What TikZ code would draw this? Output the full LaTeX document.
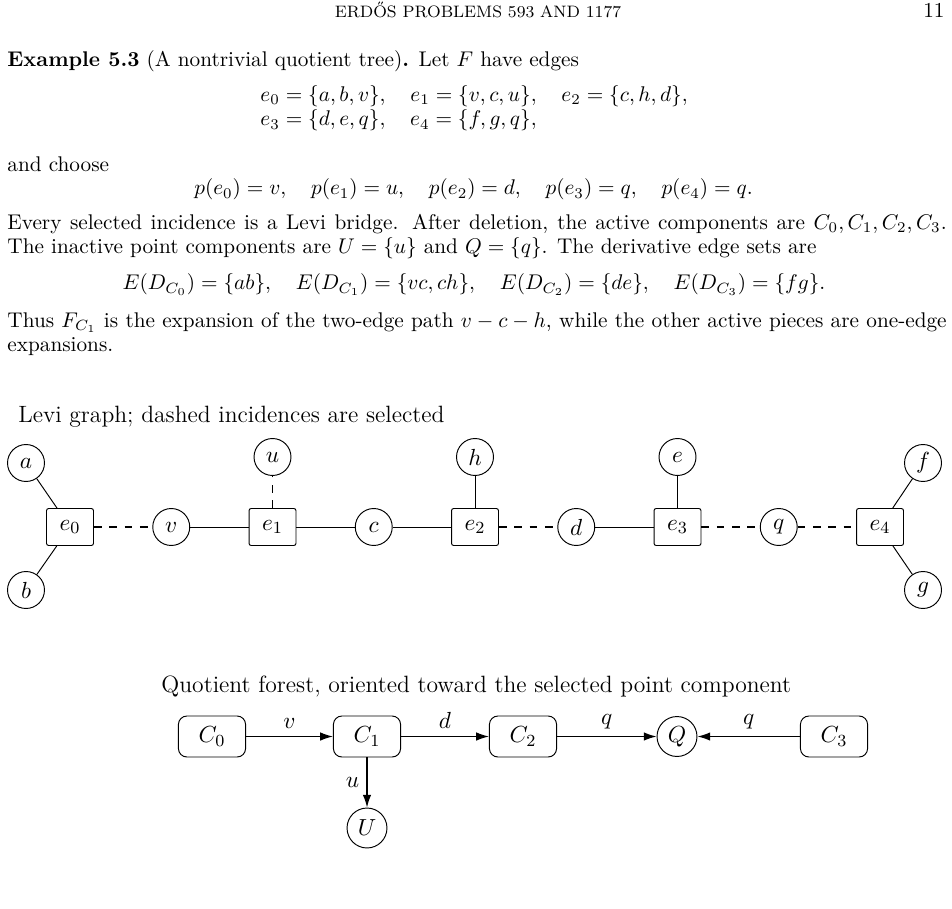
\documentclass[tikz,border=0pt]{standalone}
\usepackage{fontspec}
\usetikzlibrary{arrows.meta}
\begin{document}
\begin{tikzpicture}[x=0.4706pt,y=-0.4706pt,
  txt/.style={anchor=base west,inner sep=0pt,font=\fontsize{10}{12}\selectfont},
  ctxt/.style={anchor=base,inner sep=0pt,font=\fontsize{10}{12}\selectfont},
  par/.style={anchor=north west,inner sep=0pt,text width=442pt,align=justify,font=\fontsize{10}{11.45}\selectfont},
  dtxt/.style={anchor=base west,inner sep=0pt,font=\fontsize{11.1}{13}\selectfont},
  vtx/.style={circle,draw,line width=0.45pt,minimum size=17.4pt,inner sep=0pt,font=\fontsize{11.1}{13}\selectfont},
  hedge/.style={draw,line width=0.45pt,rounded corners=1pt,minimum width=22.1pt,minimum height=17.4pt,inner sep=0pt,font=\fontsize{11.1}{13}\selectfont},
  comp/.style={draw,line width=0.45pt,rounded corners=4pt,minimum width=31.6pt,minimum height=19.3pt,inner sep=0pt,font=\fontsize{11.1}{13}\selectfont},
  pcomp/.style={circle,draw,line width=0.45pt,minimum size=18.8pt,inner sep=0pt,font=\fontsize{11.1}{13}\selectfont},
  sel/.style={line width=0.9pt,dash pattern=on 3.6pt off 3.6pt},
  inc/.style={line width=0.45pt},
  arr/.style={line width=0.6pt,-{Latex[length=6pt,width=4pt]}},
  lab/.style={font=\fontsize{11.1}{13}\selectfont}]
\useasboundingbox (0,0) rectangle (952,909);
% ---- page text ----
\node[ctxt,font=\fontsize{7.8}{10}\selectfont] (head) at (478,18) {ERD\H{O}S PROBLEMS 593 AND 1177};
\node[anchor=base east,inner sep=0pt,font=\fontsize{10}{12}\selectfont] (pnum) at (945,18) {11};
\node[txt] (ex) at (7,66.7) {\textbf{Example 5.3} (A nontrivial quotient tree)\textbf{.} Let $F$ have edges};
\node[txt] (eq1) at (260,101.7) {$e_0 = \{a, b, v\},\quad e_1 = \{v, c, u\},\quad e_2 = \{c, h, d\},$};
\node[txt] (eq2) at (260,126) {$e_3 = \{d, e, q\},\quad e_4 = \{f, g, q\},$};
\node[txt] (choose) at (7,171.7) {and choose};
\node[ctxt] (eqp) at (473.5,195) {$p(e_0) = v,\quad p(e_1) = u,\quad p(e_2) = d,\quad p(e_3) = q,\quad p(e_4) = q.$};
\node[par] (p1) at (7,214) {Every selected incidence is a Levi bridge. After deletion, the active components are $C_0, C_1, C_2, C_3$.\linebreak The inactive point components are $U = \{u\}$ and $Q = \{q\}$. The derivative edge sets are};
\node[ctxt] (eqd) at (474,290) {$E(D_{C_0}) = \{ab\},\quad E(D_{C_1}) = \{vc, ch\},\quad E(D_{C_2}) = \{de\},\quad E(D_{C_3}) = \{fg\}.$};
\node[par] (p2) at (7,312) {Thus $F_{C_1}$ is the expansion of the two-edge path $v - c - h$, while the other active pieces are one-edge\linebreak expansions.};
% ---- Levi graph ----
\node[dtxt] (levititle) at (18,422) {Levi graph; dashed incidences are selected};
\node[hedge] (e0) at (70,527) {$e_0$};
\node[vtx] (v) at (171.25,527) {$v$};
\node[hedge] (e1) at (272.5,527) {$e_1$};
\node[vtx] (c) at (373.75,527) {$c$};
\node[hedge] (e2) at (475,527) {$e_2$};
\node[vtx] (d) at (576.25,527) {$d$};
\node[hedge] (e3) at (677.5,527) {$e_3$};
\node[vtx] (q) at (778.75,527) {$q$};
\node[hedge] (e4) at (880,527) {$e_4$};
\node[vtx] (a) at (26,463) {$a$};
\node[vtx] (b) at (26,590) {$b$};
\node[vtx] (u) at (272.5,457) {$u$};
\node[vtx] (h) at (475,457) {$h$};
\node[vtx] (e) at (677.5,457) {$e$};
\node[vtx] (f) at (923,463) {$f$};
\node[vtx] (g) at (923,590) {$g$};
\draw[inc] (a) -- (e0);
\draw[inc] (b) -- (e0);
\draw[sel] (e0) -- (v);
\draw[inc] (v) -- (e1);
\draw[sel] (e1) -- (u);
\draw[inc] (e1) -- (c);
\draw[inc] (c) -- (e2);
\draw[inc] (h) -- (e2);
\draw[sel] (e2) -- (d);
\draw[inc] (d) -- (e3);
\draw[inc] (e) -- (e3);
\draw[sel] (e3) -- (q);
\draw[sel] (q) -- (e4);
\draw[inc] (f) -- (e4);
\draw[inc] (g) -- (e4);
% ---- Quotient forest ----
\node[dtxt] (qtitle) at (161,692) {Quotient forest, oriented toward the selected point component};
\node[comp] (C0) at (212,736.5) {$C_0$};
\node[comp] (C1) at (367,736.5) {$C_1$};
\node[comp] (C2) at (523,736.5) {$C_2$};
\node[pcomp] (Q) at (677,736.5) {$Q$};
\node[comp] (C3) at (834,736.5) {$C_3$};
\node[pcomp] (U) at (367,828) {$U$};
\draw[arr] (C0) -- node[lab,above] {$v$} (C1);
\draw[arr] (C1) -- node[lab,above] {$d$} (C2);
\draw[arr] (C2) -- node[lab,above] {$q$} (Q);
\draw[arr] (C3) -- node[lab,above] {$q$} (Q);
\draw[arr] (C1) -- node[lab,left] {$u$} (U);
\end{tikzpicture}
\end{document}
